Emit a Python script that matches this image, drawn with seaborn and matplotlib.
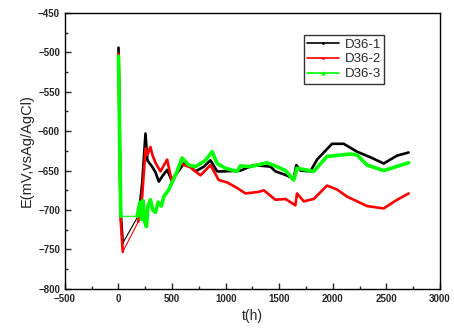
import matplotlib
matplotlib.use("Agg")
import matplotlib.pyplot as plt
import seaborn as sns
import pandas as pd
from matplotlib.ticker import MultipleLocator
from matplotlib.lines import Line2D

# values (t in h, E in mV)
t1 = [0, 9, 19, 40, 190, 221, 252, 270, 314, 345, 376, 410, 454, 495, 547, 610, 672, 718,
      797, 858, 921, 983, 1139, 1262, 1418, 1465, 1550, 1635, 1660, 1700, 1791, 1853, 1993,
      2102, 2226, 2350, 2475, 2600, 2708]
e1 = [-494, -573, -700, -742, -706, -666, -603, -637, -645, -652, -664, -657, -649, -662, -653,
      -641, -645, -651, -645, -637, -651, -651, -650, -643, -645, -651, -655, -660, -643, -650,
      -651, -636, -616, -616, -626, -633, -641, -631, -627]

t2 = [0, 9, 19, 40, 184, 221, 252, 270, 298, 314, 345, 392, 454, 495, 547, 578, 610, 672,
      765, 858, 936, 1014, 1107, 1185, 1309, 1356, 1465, 1558, 1651, 1666, 1729, 1822, 1946,
      2040, 2133, 2320, 2475, 2600, 2708]
e2 = [-502, -590, -710, -753, -715, -683, -622, -630, -620, -629, -640, -651, -636, -662, -653,
      -641, -643, -646, -656, -643, -662, -665, -672, -679, -677, -675, -687, -686, -694, -679,
      -689, -686, -669, -674, -683, -695, -698, -687, -679]

t3 = [0, 8, 16, 22, 174, 200, 215, 230, 245, 261, 275, 298, 320, 345, 370, 400, 423, 470,
      510, 547, 594, 656, 718, 765, 811, 874, 921, 998, 1107, 1138, 1231, 1387, 1496, 1560,
      1635, 1666, 1822, 1946, 2164, 2226, 2320, 2475, 2708]
e3 = [-505, -580, -660, -708, -708, -690, -712, -688, -715, -721, -695, -687, -700, -703,
      -690, -695, -683, -674, -662, -651, -634, -643, -645, -641, -637, -626, -641, -647, -651,
      -644, -645, -640, -646, -650, -662, -647, -651, -632, -629, -630, -643, -650, -640]

names = ["D36-1", "D36-2", "D36-3"]
colors = ["black", "red", "#00ff00"]

frames = []
for name, t, e in zip(names, [t1, t2, t3], [e1, e2, e3]):
    d = pd.DataFrame({"t": t, "E": e, "sample": name})
    # the logging gap after the first drop is only bridged by a thin line
    d["part"] = [0 if i < 4 else 1 for i in range(len(t))]
    frames.append(d)
df = pd.concat(frames, ignore_index=True)

sns.set_style("ticks")
plt.rcParams["font.family"] = ["Liberation Sans", "DejaVu Sans"]

fig, ax = plt.subplots(figsize=(4.54, 3.32), dpi=100)
fig.subplots_adjust(left=0.143, right=0.969, bottom=0.13, top=0.961)

pal = dict(zip(names, colors))
sns.lineplot(data=df, x="t", y="E", hue="sample", palette=pal, estimator=None,
             sort=False, lw=0.8, legend=False, ax=ax)
for name in names:
    for p in [0, 1]:
        seg = df[(df["sample"] == name) & (df["part"] == p)]
        sns.lineplot(data=seg, x="t", y="E", color=pal[name], estimator=None, sort=False,
                     lw=2.6 if name == "D36-3" else 1.9, ax=ax, legend=False)

handles = [Line2D([0], [0], color=c, lw=1.2, marker=m, markersize=2)
           for c, m in zip(colors, [".", ".", "^"])]
leg = ax.legend(handles, names, loc="upper left", bbox_to_anchor=(0.638, 0.92),
                frameon=True, fancybox=False, fontsize=9.5, handlelength=2.4,
                borderpad=0.25, labelspacing=0.2, handletextpad=0.4, borderaxespad=0)
leg.get_frame().set_edgecolor("black")
leg.get_frame().set_linewidth(1)

ax.set_xlim(-500, 3000)
ax.set_ylim(-800, -450)
ax.xaxis.set_major_locator(MultipleLocator(500))
ax.xaxis.set_minor_locator(MultipleLocator(250))
ax.yaxis.set_major_locator(MultipleLocator(50))
ax.yaxis.set_minor_locator(MultipleLocator(25))
ax.tick_params(which="both", direction="in", top=False, right=False, width=1)
ax.tick_params(which="major", length=4, labelsize=7)
ax.tick_params(which="minor", length=2)
for lab in ax.get_xticklabels() + ax.get_yticklabels():
    lab.set_fontweight("bold")
for s in ax.spines.values():
    s.set_linewidth(1)
    s.set_color("black")

ax.set_xlabel("t(h)", fontsize=10)
ax.set_ylabel("E(mV,vsAg/AgCl)", fontsize=10.5, labelpad=3)

fig.savefig("out.png", dpi=100)
